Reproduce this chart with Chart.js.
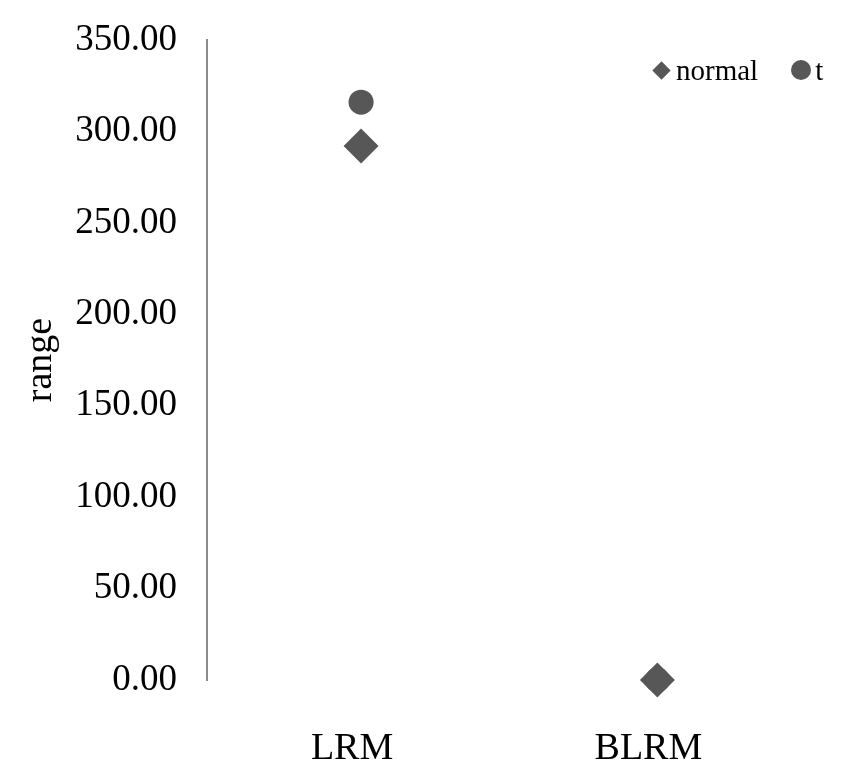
<!DOCTYPE html>
<html>
<head>
<meta charset="UTF-8">
<title>range - LRM / BLRM</title>
<script src="https://cdn.jsdelivr.net/npm/chart.js"></script>
<style>
    body { margin: 0; background: #fff; }
    .wrap { width: 850px; height: 771px; position: relative; }
    /* legend sits inside the plot, top right */
    .legend {
        position: absolute;
        left: 652px;
        top: 54px;
        display: flex;
        align-items: center;
        font-family: "Liberation Serif", "Times New Roman", serif;
        font-size: 29px;
        line-height: 32px;
        color: #000;
    }
    .legend .mark { display: inline-block; background: #575757; }
    .legend .rectRot { width: 13px; height: 13px; transform: rotate(45deg); margin: 0 8px 0 3px; }
    .legend .circle { width: 20px; height: 20px; border-radius: 50%; margin: 0 4px 0 33px; }
</style>
</head>
<body>
<div class="wrap">
    <canvas id="chartRange"></canvas>
    <div class="legend" id="legend"></div>
</div>
<script>
    // values
    const categories = ['LRM', 'BLRM'];
    const seriesNames = ['normal', 't'];
    const seriesStyles = ['rectRot', 'circle'];
    const normalValues = [292, 0];
    const tValues = [316, 0];
    const yTicks = [0, 50, 100, 150, 200, 250, 300, 350];

    const serif = '"Liberation Serif", "Times New Roman", serif';
    const markColor = '#575757';

    // category index -> x position on the linear axis
    function toPoints(values) {
        return values.map((v, i) => ({ x: i, y: v }));
    }

    const chart = new Chart(document.getElementById('chartRange'), {
        type: 'scatter',
        data: {
            datasets: [{
                label: seriesNames[0],
                data: toPoints(normalValues),
                pointStyle: seriesStyles[0],
                pointRadius: 17.5,
                pointHoverRadius: 17.5,
                backgroundColor: markColor,
                borderColor: markColor,
                borderWidth: 0,
                clip: false
            }, {
                label: seriesNames[1],
                data: toPoints(tValues),
                pointStyle: seriesStyles[1],
                pointRadius: 12.5,
                pointHoverRadius: 12.5,
                backgroundColor: markColor,
                borderColor: markColor,
                borderWidth: 0,
                clip: false
            }]
        },
        options: {
            responsive: true,
            maintainAspectRatio: false,
            animation: false,
            layout: { padding: { top: 40, right: 14, left: 0, bottom: 0 } },
            plugins: {
                tooltip: { enabled: false },
                legend: { display: false }
            },
            scales: {
                x: {
                    type: 'linear',
                    min: -0.520,
                    max: 1.591,
                    grid: { display: false, drawTicks: false },
                    border: { display: false },
                    afterBuildTicks: s => { s.ticks = categories.map((c, i) => ({ value: i })); },
                    afterFit: s => { s.height = 91; },
                    ticks: {
                        callback: v => categories[v],
                        padding: 46,
                        labelOffset: -9,
                        maxRotation: 0,
                        color: '#000',
                        font: { family: serif, size: 38 }
                    }
                },
                y: {
                    min: 0,
                    max: 350,
                    grid: { display: false, drawTicks: false },
                    border: { display: true, color: '#8c8c8c', width: 2 },
                    afterBuildTicks: s => { s.ticks = yTicks.map(v => ({ value: v })); },
                    // fixed axis width, and let the plot run up to the top padding
                    afterFit: s => { s.width = 207; s.paddingTop = 0; s.paddingBottom = 0; },
                    ticks: {
                        callback: v => v.toFixed(2),
                        padding: 30,
                        color: '#000',
                        font: { family: serif, size: 37 }
                    },
                    title: {
                        display: true,
                        text: 'range',
                        color: '#000',
                        padding: { top: 18, bottom: 0 },
                        font: { family: serif, size: 38 }
                    }
                }
            }
        }
    });

    // html legend built from the chart's datasets
    document.getElementById('legend').innerHTML = chart.data.datasets.map((ds, i) =>
        '<span class="mark ' + seriesStyles[i] + '"></span><span>' + ds.label + '</span>'
    ).join('');
</script>
</body>
</html>
